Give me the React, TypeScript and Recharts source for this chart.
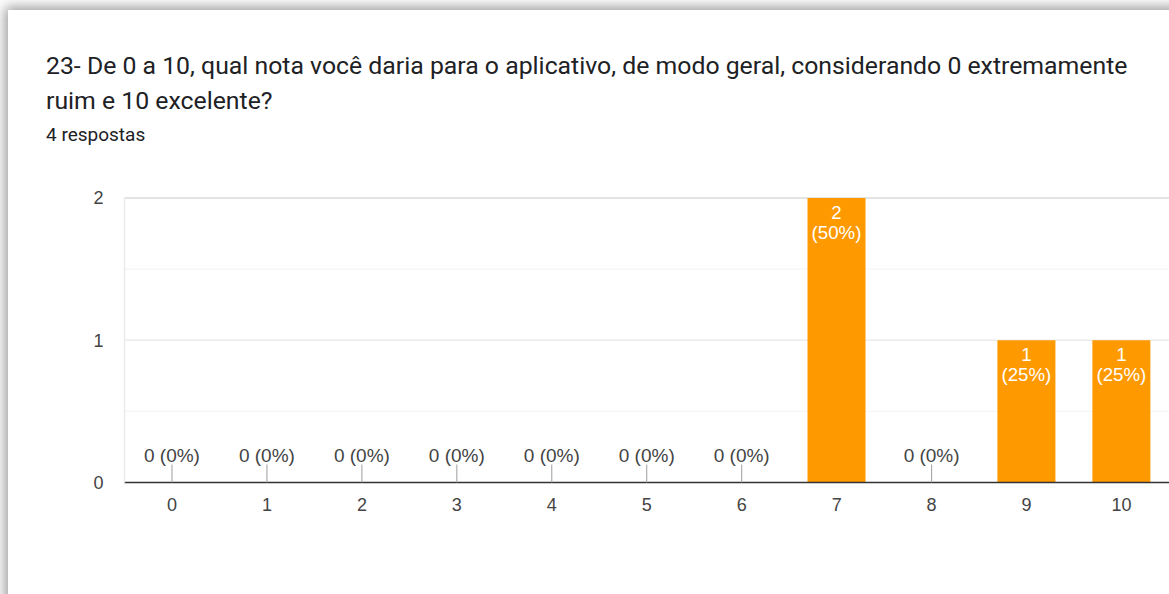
import React from 'react';
import { BarChart, Bar, XAxis, YAxis, CartesianGrid, LabelList } from 'recharts';

// answers 0..10 and how many people picked each one
const notas = ['0', '1', '2', '3', '4', '5', '6', '7', '8', '9', '10'];
const respostas = [0, 0, 0, 0, 0, 0, 0, 2, 0, 1, 1];
const yTicks = [0, 1, 2];
const halfLines = [0.5, 1.5];
const fullLines = [1];
const topLine = [2];

const total = respostas.reduce((a, b) => a + b, 0);
const chartData = notas.map((n, i) => ({ nota: n, count: respostas[i] }));
const yMin = yTicks[0];
const yMax = yTicks[yTicks.length - 1];

const CHART_FONT = '"Liberation Sans", Arial, sans-serif';
const pctOf = (v: number) => `(${Math.round((v / total) * 100)}%)`;

// grid rows placed on the y axis (linear domain yMin..yMax over the plot height)
const rowsAt = (vals: number[]) => (args: any) => {
  const sc = args.yAxis && args.yAxis.scale;
  return vals.map((v) => {
    if (typeof sc === 'function') return sc(v);
    const { top, height } = args.offset;
    return top + (height * (yMax - v)) / (yMax - yMin);
  });
};

// white count + percentage inside the top of each bar
const BarLabel = (props: any) => {
  const { x, y, width, value } = props;
  if (!value) return null;
  const cx = x + width / 2;
  return (
    <g>
      <text x={cx} y={y + 14} textAnchor="middle" dominantBaseline="central" fill="#fff" fontSize={18.7} fontFamily={CHART_FONT}>
        {value}
      </text>
      <text x={cx} y={y + 34} textAnchor="middle" dominantBaseline="central" fill="#fff" fontSize={18.7} fontFamily={CHART_FONT}>
        {pctOf(value)}
      </text>
    </g>
  );
};

// category tick; empty categories also get the "0 (0%)" marker above the axis
const NotaTick = (props: any) => {
  const { x, y, payload } = props;
  const v = respostas[payload.index];
  return (
    <g>
      {v === 0 && (
        <g>
          <line x1={x} x2={x} y1={y - 18} y2={y} stroke="#9e9e9e" strokeWidth={1} />
          <text x={x} y={y - 27} textAnchor="middle" dominantBaseline="central" fill="#444" fontSize={19} fontFamily={CHART_FONT}>
            {`${v} ${pctOf(v)}`}
          </text>
        </g>
      )}
      <text x={x} y={y + 22} textAnchor="middle" dominantBaseline="central" fill="#444" fontSize={18} fontFamily={CHART_FONT}>
        {payload.value}
      </text>
    </g>
  );
};

export default function App() {
  return (
    <div style={{ position: 'absolute', left: 0, top: 0, width: 1169, height: 594, overflow: 'hidden', background: '#fff' }}>
      <div
        style={{
          position: 'absolute',
          left: 8,
          top: 10,
          width: 1200,
          height: 620,
          background: '#fff',
          boxShadow: '0 0 12px 3px rgba(0,0,0,0.4)',
        }}
      />
      <div
        style={{
          position: 'absolute',
          left: 46,
          top: 47.5,
          fontFamily: 'Roboto, sans-serif',
          fontSize: 24.8,
          lineHeight: '35px',
          color: '#202124',
          whiteSpace: 'nowrap',
        }}
      >
        23- De 0 a 10, qual nota você daria para o aplicativo, de modo geral, considerando 0 extremamente
        <br />
        ruim e 10 excelente?
      </div>
      <div
        style={{
          position: 'absolute',
          left: 46,
          top: 123.5,
          fontFamily: 'Roboto, sans-serif',
          fontSize: 19,
          lineHeight: '22px',
          color: '#202124',
          whiteSpace: 'nowrap',
        }}
      >
        4 respostas
      </div>
      <div style={{ position: 'absolute', left: 0, top: 0 }}>
        <BarChart
          width={1200}
          height={594}
          data={chartData}
          margin={{ top: 198, right: 31, left: 64.5, bottom: 81.5 }}
          barCategoryGap="19.3%"
        >
          <CartesianGrid vertical={false} stroke="#f3f3f3" horizontalCoordinatesGenerator={rowsAt(halfLines)} />
          <CartesianGrid vertical={false} stroke="#ebebeb" strokeWidth={1.5} horizontalCoordinatesGenerator={rowsAt(fullLines)} />
          <CartesianGrid vertical={false} stroke="#e4e4e4" strokeWidth={2} horizontalCoordinatesGenerator={rowsAt(topLine)} />
          <XAxis
            dataKey="nota"
            height={30}
            tickLine={false}
            tickSize={0}
            tickMargin={0}
            axisLine={{ stroke: '#333', strokeWidth: 1.5 }}
            tick={<NotaTick />}
          />
          <YAxis
            width={60}
            domain={[yMin, yMax]}
            ticks={yTicks}
            tickLine={false}
            tickSize={0}
            tickMargin={21}
            axisLine={{ stroke: '#ebebeb', strokeWidth: 1.5 }}
            tick={{ fill: '#444', fontSize: 18, fontFamily: CHART_FONT }}
          />
          <Bar dataKey="count" fill="#ff9900" isAnimationActive={false}>
            <LabelList dataKey="count" content={BarLabel} />
          </Bar>
        </BarChart>
      </div>
    </div>
  );
}
